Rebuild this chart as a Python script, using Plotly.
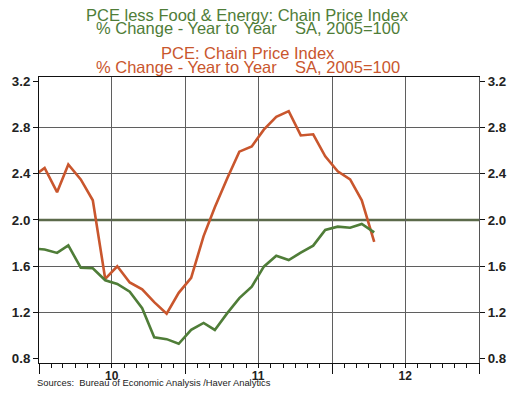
import plotly.graph_objects as go

# ---- data (monthly, plotted mid-month) ----
months = ["2009-12-15", "2010-01-15", "2010-02-15", "2010-03-15", "2010-04-15", "2010-05-15",
          "2010-06-15", "2010-07-15", "2010-08-15", "2010-09-15", "2010-10-15", "2010-11-15",
          "2010-12-15", "2011-01-15", "2011-02-15", "2011-03-15", "2011-04-15", "2011-05-15",
          "2011-06-15", "2011-07-15", "2011-08-15", "2011-09-15", "2011-10-15", "2011-11-15",
          "2011-12-15", "2012-01-15", "2012-02-15", "2012-03-15", "2012-04-15"]

pce = [2.37, 2.45, 2.24, 2.48, 2.35, 2.17,
       1.49, 1.60, 1.46, 1.40, 1.29, 1.19,
       1.37, 1.50, 1.86, 2.11, 2.36, 2.59,
       2.635, 2.78, 2.89, 2.94, 2.73, 2.74,
       2.55, 2.42, 2.35, 2.17, 1.81]

core = [1.755, 1.745, 1.715, 1.78, 1.588, 1.582,
        1.479, 1.447, 1.38, 1.237, 0.986, 0.97,
        0.93, 1.05, 1.11, 1.05, 1.195, 1.325,
        1.424, 1.596, 1.69, 1.654, 1.717, 1.778,
        1.914, 1.942, 1.933, 1.965, 1.893]

y_ticks = [0.8, 1.2, 1.6, 2.0, 2.4, 2.8, 3.2]
y_grid = [1.2, 1.6, 2.4, 2.8]
ref_level = 2.0
year_bounds = ["2010-01-01", "2011-01-01", "2012-01-01", "2013-01-01"]
label_pos = ["2010-07-01", "2011-01-01", "2011-07-01", "2012-01-01", "2012-07-01"]
label_text = ["10", "", "11", "", "12"]

RED = "#c9562d"
GREEN = "#4f7d38"
FONT = "Liberation Sans, Arial, sans-serif"
x_range = ["2010-01-01", "2013-01-01"]
y_range = [0.764, 3.235]

fig = go.Figure()
fig.add_trace(go.Scatter(x=months, y=pce, mode="lines", line=dict(color=RED, width=2.6),
                         showlegend=False, cliponaxis=True))
fig.add_trace(go.Scatter(x=months, y=core, mode="lines", line=dict(color=GREEN, width=2.6),
                         showlegend=False, cliponaxis=True))

fig.add_hline(y=ref_level, line=dict(color="#5b6a4a", width=2.5), layer="below")

tickfont = dict(family=FONT, size=13.3, color="#222222")
y_text = [f"<b>{v:.1f}</b>" for v in y_ticks]

fig.update_layout(
    width=519, height=400,
    margin=dict(l=36, r=40, t=77, b=37),
    paper_bgcolor="white", plot_bgcolor="white",
    font=dict(family=FONT),
    xaxis=dict(type="date", range=x_range, tickmode="array", tickvals=year_bounds,
               ticks="outside", ticklen=10, tickcolor="#111111", tickwidth=1,
               showticklabels=False, showgrid=False, zeroline=False,
               showline=True, linecolor="#111111", linewidth=1, mirror=True,
               minor=dict(tickmode="linear", tick0="2010-01-01", dtick="M1",
                          ticks="outside", ticklen=4, tickcolor="#111111", showgrid=False)),
    xaxis2=dict(type="date", range=x_range, overlaying="x", anchor="y", side="bottom",
                tickmode="array", tickvals=label_pos,
                ticktext=[f"<b>{t}</b>" if t else "" for t in label_text],
                ticks="", showgrid=True, gridcolor="#5f5f5f", gridwidth=1,
                showline=False, zeroline=False, ticklabelstandoff=4,
                tickfont=dict(family=FONT, size=12, color="#222222")),
    yaxis=dict(range=y_range, tickmode="array", tickvals=y_ticks, ticktext=y_text,
               ticks="outside", ticklen=5, tickcolor="#111111",
               showgrid=False, zeroline=False, showline=True, linecolor="#111111",
               mirror=True, tickfont=tickfont),
    yaxis2=dict(range=y_range, overlaying="y", side="right", anchor="x",
                tickmode="array", tickvals=y_ticks, ticktext=y_text,
                ticks="outside", ticklen=5, tickcolor="#111111",
                showgrid=False, zeroline=False, showline=True, linecolor="#555555",
                tickfont=tickfont),
    yaxis3=dict(range=y_range, overlaying="y", anchor="x", tickmode="array",
                tickvals=y_grid, showticklabels=False, ticks="",
                showgrid=True, gridcolor="#5f5f5f", gridwidth=1, zeroline=False,
                showline=False),
)

# invisible traces to attach overlay axes
fig.add_trace(go.Scatter(x=[x_range[0]], y=[y_ticks[0]], xaxis="x2", yaxis="y2",
                         mode="markers", marker=dict(opacity=0), showlegend=False,
                         hoverinfo="skip"))
fig.add_trace(go.Scatter(x=[x_range[0]], y=[y_ticks[0]], xaxis="x", yaxis="y3",
                         mode="markers", marker=dict(opacity=0), showlegend=False,
                         hoverinfo="skip"))

titles = [
    ("PCE less Food & Energy: Chain Price Index", GREEN, 1.2168),
    ("% Change - Year to Year    SA, 2005=100", GREEN, 1.171),
    ("PCE: Chain Price Index", RED, 1.0839),
    ("% Change - Year to Year    SA, 2005=100", RED, 1.035),
]
for text, col, yy in titles:
    fig.add_annotation(text=text.replace("    ", "&nbsp;&nbsp;&nbsp;&nbsp;"),
                       xref="paper", yref="paper", x=0.474, y=yy,
                       xanchor="center", yanchor="middle", showarrow=False,
                       font=dict(family=FONT, size=16.5, color=col))

fig.add_annotation(text="Sources:  Bureau of Economic Analysis /Haver Analytics",
                   xref="paper", yref="paper", x=-0.01, y=-0.068,
                   xanchor="left", yanchor="middle", showarrow=False,
                   font=dict(family=FONT, size=9.4, color="#222222"))

fig.write_html("out.html")
